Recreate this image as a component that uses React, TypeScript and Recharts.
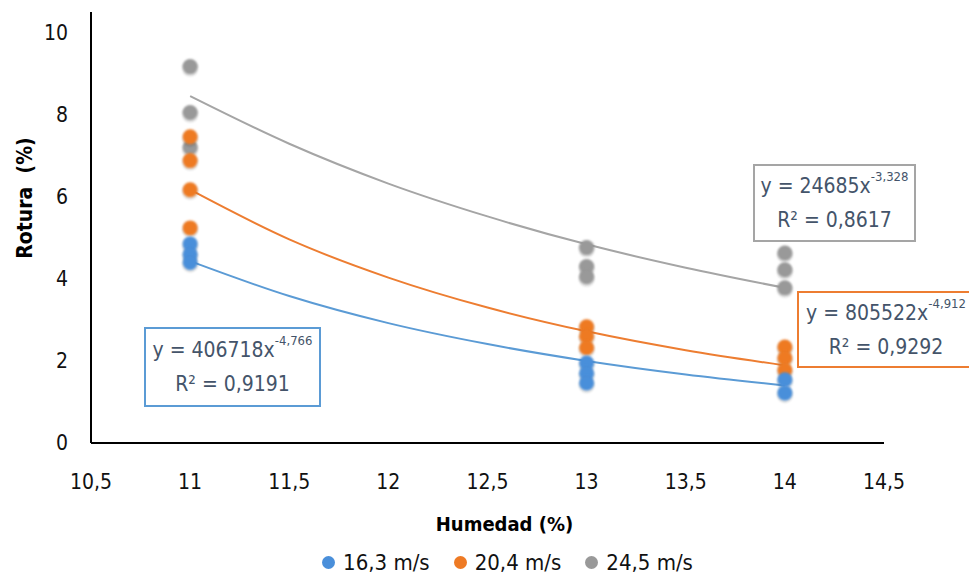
import React from 'react';
import { ComposedChart, Scatter, Line, XAxis, YAxis, Legend, Label } from 'recharts';

// Measured points (Humedad %, Rotura %)
const blueX = [11, 11, 11, 13, 13, 13, 14, 14];
const blueY = [4.85, 4.6, 4.4, 1.95, 1.7, 1.46, 1.54, 1.22];
const orangeX = [11, 11, 11, 11, 13, 13, 13, 14, 14, 14];
const orangeY = [7.46, 6.88, 6.17, 5.24, 2.83, 2.6, 2.32, 2.34, 2.07, 1.78];
const grayX = [11, 11, 11, 13, 13, 13, 14, 14, 14];
const grayY = [9.17, 8.05, 7.2, 4.76, 4.3, 4.05, 4.63, 4.22, 3.78];

// Trendline values
const trendX = [11, 11.5, 12, 12.5, 13, 13.5, 14];
const trendBlue = [4.43, 3.58, 2.92, 2.41, 2.0, 1.67, 1.4];
const trendOrange = [6.17, 4.96, 4.03, 3.3, 2.72, 2.26, 1.89];
const trendGray = [8.45, 7.29, 6.32, 5.52, 4.84, 4.27, 3.78];

const xTicks = [10.5, 11, 11.5, 12, 12.5, 13, 13.5, 14, 14.5];
const yTicks = [0, 2, 4, 6, 8, 10];

const seriesNames = ['16,3 m/s', '20,4 m/s', '24,5 m/s'];
const colors = ['#4A8FDA', '#EE7A24', '#999999'];
const lineColors = ['#5B9BD5', '#ED7D31', '#A5A5A5'];

const eqCoef = ['406718', '805522', '24685'];
const eqExp = ['-4,766', '-4,912', '-3,328'];
const eqR2 = ['0,9191', '0,9292', '0,8617'];

const toPts = (xs: number[], ys: number[]) => xs.map((x, i) => ({ x, y: ys[i] }));
const blueData = toPts(blueX, blueY);
const orangeData = toPts(orangeX, orangeY);
const grayData = toPts(grayX, grayY);
const trendB = toPts(trendX, trendBlue);
const trendO = toPts(trendX, trendOrange);
const trendG = toPts(trendX, trendGray);

const FONT = '"DejaVu Sans Condensed", "Liberation Sans", sans-serif';
const comma = (v: number) => String(v).replace('.', ',');

const makeDot = (color: string, id: string) => (props: any) => {
  const { cx, cy } = props;
  if (cx == null || cy == null) return <g />;
  return (
    <g>
      <defs>
        <filter id={id} x="-50%" y="-50%" width="200%" height="200%">
          <feGaussianBlur stdDeviation="0.9" />
        </filter>
      </defs>
      <circle cx={cx} cy={cy + 2} r={8} fill="#000" opacity={0.12} filter={`url(#${id})`} />
      <circle cx={cx} cy={cy} r={7.5} fill={color} filter={`url(#${id})`} />
    </g>
  );
};

const LegendContent = () => (
  <div style={{ display: 'flex', justifyContent: 'center', fontFamily: FONT, fontSize: 22, color: '#111', paddingLeft: 131, height: 30, alignItems: 'center', gap: 24 }}>
    {seriesNames.map((n, i) => (
      <div key={n} style={{ display: 'flex', alignItems: 'center' }}>
        <span style={{ display: 'inline-block', width: 13, height: 13, borderRadius: 7, background: colors[i], marginRight: 8 }} />
        <span>{n}</span>
      </div>
    ))}
  </div>
);

const YTitle = (props: any) => {
  const vb = props.viewBox || { x: 0, y: 0, width: 0, height: 0 };
  const x = 25;
  const y = vb.y + 186;
  return (
    <text x={x} y={y} transform={`rotate(-90 ${x} ${y})`} textAnchor="middle" dominantBaseline="central"
      style={{ fontFamily: FONT, fontSize: 21, fontWeight: 'bold', fill: '#000', whiteSpace: 'pre' }}>
      Rotura  (%)
    </text>
  );
};

const EqBox = ({ i, left, top, width, height, border }: any) => (
  <div
    style={{
      position: 'absolute', left, top, width, height, boxSizing: 'border-box',
      border: `2px solid ${border}`, background: '#fff', fontFamily: FONT, fontSize: 21, color: '#44546A',
      display: 'flex', flexDirection: 'column', alignItems: 'center', justifyContent: 'center', lineHeight: '34px',
    }}
  >
    <div style={{ whiteSpace: 'nowrap' }}>
      y = {eqCoef[i]}x<sup style={{ fontSize: 13, verticalAlign: 'top', position: 'relative', top: -9 }}>{eqExp[i]}</sup>
    </div>
    <div style={{ whiteSpace: 'nowrap' }}>R² = {eqR2[i]}</div>
  </div>
);

export default function App() {
  return (
    <div style={{ position: 'absolute', left: 0, top: 0, width: 969, height: 577, overflow: 'hidden', background: '#fff' }}>
      <ComposedChart width={969} height={577} margin={{ top: 12, right: 85, bottom: 0, left: 0 }}>
        <XAxis
          type="number"
          dataKey="x"
          domain={[10.5, 14.5]}
          ticks={xTicks}
          tickFormatter={comma}
          tickLine={false}
          axisLine={{ stroke: '#000', strokeWidth: 2 }}
          tick={{ fill: '#111', fontSize: 21, fontFamily: FONT }}
          tickMargin={25}
          height={104}
          allowDuplicatedCategory={false}
        >
          <Label value="Humedad (%)" position="insideBottom" offset={16} dx={17}
            style={{ fontFamily: FONT, fontSize: 20, fontWeight: 'bold', fill: '#000' }} />
        </XAxis>
        <YAxis
          type="number"
          dataKey="y"
          domain={[0, 10.5]}
          ticks={yTicks}
          tickLine={false}
          axisLine={{ stroke: '#000', strokeWidth: 2 }}
          tick={{ fill: '#111', fontSize: 21, fontFamily: FONT }}
          tickMargin={17}
          width={91}
        >
          <Label content={<YTitle />} />
        </YAxis>
        <Legend verticalAlign="bottom" height={30} content={<LegendContent />} />
        <Line data={trendG} dataKey="y" type="monotone" stroke={lineColors[2]} strokeWidth={2} dot={false} legendType="none" isAnimationActive={false} />
        <Line data={trendO} dataKey="y" type="monotone" stroke={lineColors[1]} strokeWidth={2} dot={false} legendType="none" isAnimationActive={false} />
        <Line data={trendB} dataKey="y" type="monotone" stroke={lineColors[0]} strokeWidth={2} dot={false} legendType="none" isAnimationActive={false} />
        <Scatter name={seriesNames[2]} data={grayData} fill={colors[2]} shape={makeDot(colors[2], 'fg')} isAnimationActive={false} />
        <Scatter name={seriesNames[1]} data={orangeData} fill={colors[1]} shape={makeDot(colors[1], 'fo')} isAnimationActive={false} />
        <Scatter name={seriesNames[0]} data={blueData} fill={colors[0]} shape={makeDot(colors[0], 'fb')} isAnimationActive={false} />
      </ComposedChart>
      <EqBox i={2} left={753} top={164} width={163} height={78} border="#A5A5A5" />
      <EqBox i={1} left={797} top={291} width={178} height={77} border="#ED7D31" />
      <EqBox i={0} left={144} top={327} width={177} height={80} border="#5B9BD5" />
    </div>
  );
}
